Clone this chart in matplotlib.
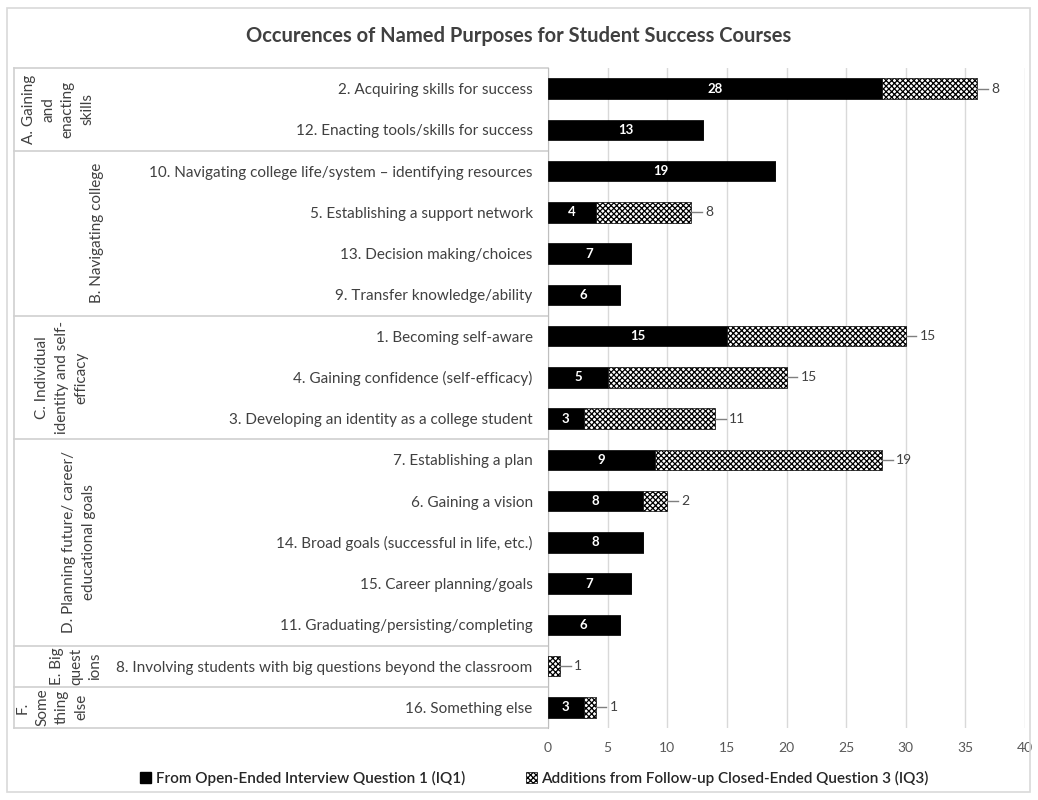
import matplotlib.pyplot as plt
import matplotlib.patches as mpatches
import matplotlib.transforms as mtransforms

plt.rcParams['font.family'] = ['Lato', 'DejaVu Sans']
plt.rcParams['hatch.linewidth'] = 0.9

purposes = [
    "2. Acquiring skills for success",
    "12. Enacting tools/skills for success",
    "10. Navigating college life/system \u2013 identifying resources",
    "5. Establishing a support network",
    "13. Decision making/choices",
    "9. Transfer knowledge/ability",
    "1. Becoming self-aware",
    "4. Gaining confidence (self-efficacy)",
    "3. Developing an identity as a college student",
    "7. Establishing a plan",
    "6. Gaining a vision",
    "14. Broad goals (successful in life, etc.)",
    "15. Career planning/goals",
    "11. Graduating/persisting/completing",
    "8. Involving students with big questions beyond the classroom",
    "16. Something else",
]
iq1 = [28, 13, 19, 4, 7, 6, 15, 5, 3, 9, 8, 8, 7, 6, 0, 3]
iq3 = [8, 0, 0, 8, 0, 0, 15, 15, 11, 19, 2, 0, 0, 0, 1, 1]

groups = [
    "A. Gaining\nand\nenacting\nskills",
    "B. Navigating college",
    "C. Individual\nidentity and self-\nefficacy",
    "D. Planning future/ career/\neducational goals",
    "E. Big\nquest\nions",
    "F.\nSome\nthing\nelse",
]
group_sizes = [2, 4, 3, 5, 1, 1]
# x position (px) of each rotated group label inside the left column
group_x_px = [58, 97, 62, 79, 76, 52]

W, H = 1038, 800
fig = plt.figure(figsize=(W / 100, H / 100), dpi=100)
ax = fig.add_axes([548 / W, 1 - 728 / H, (1025 - 548) / W, 660 / H])

dark = '#404040'
grid = '#d9d9d9'
rows = list(range(len(purposes)))

ax.barh(rows, iq1, height=0.5, color='black', edgecolor='black', linewidth=0.5, zorder=3)
ax.barh(rows, iq3, left=iq1, height=0.5, color='white', edgecolor='black',
        hatch='xxxxxx', linewidth=0.5, zorder=3)

for i, (a, b) in enumerate(zip(iq1, iq3)):
    if a > 0:
        ax.text(a / 2, i, str(a), ha='center', va='center', color='white',
                fontsize=9.5, fontweight='bold', zorder=4)
    if b > 0:
        end = a + b
        ax.plot([end, end + 0.9], [i, i], color='#7f7f7f', lw=1, zorder=4)
        ax.text(end + 1.2, i, str(b), ha='left', va='center', color=dark,
                fontsize=10, zorder=4)

ax.set_xlim(0, 40)
ax.set_ylim(len(purposes) - 0.5, -0.5)
ax.set_xticks(range(0, 41, 5))
ax.xaxis.grid(True, color=grid, lw=1, zorder=0)
ax.set_axisbelow(True)
ax.tick_params(axis='x', length=0, labelsize=10, labelcolor='#595959', pad=10)
ax.set_yticks(rows)
ax.set_yticklabels(purposes, fontsize=11, color=dark)
ax.tick_params(axis='y', length=0, pad=11)
for s in ['top', 'right', 'bottom']:
    ax.spines[s].set_visible(False)
ax.spines['left'].set_color('#bfbfbf')

# table lines for the group column
trans = mtransforms.blended_transform_factory(ax.transAxes, ax.transData)
x_left = (14 - 548) / (1025 - 548)
bounds = [-0.5]
for n in group_sizes:
    bounds.append(bounds[-1] + n)
for yb in bounds:
    ax.plot([x_left, 0], [yb, yb], color='#d0d0d0', lw=1.2, transform=trans, clip_on=False)
ax.plot([x_left, x_left], [bounds[0], bounds[-1]], color='#d0d0d0', lw=1.2,
        transform=trans, clip_on=False)

for k, g in enumerate(groups):
    yc = (bounds[k] + bounds[k + 1]) / 2
    xg = (group_x_px[k] - 548) / (1025 - 548)
    ax.text(xg, yc, g, rotation=90, ha='center', va='center', multialignment='center',
            fontsize=11, color=dark, transform=trans, linespacing=1.5)

fig.text(0.5, 1 - 36 / H, "Occurences of Named Purposes for Student Success Courses",
         ha='center', va='center', fontsize=14.5, fontweight='bold', color=dark)

handles = [
    mpatches.Patch(facecolor='black', edgecolor='black',
                   label='From Open-Ended Interview Question 1 (IQ1)'),
    mpatches.Patch(facecolor='white', edgecolor='black', hatch='xxxxxx', linewidth=0.5,
                   label='Additions from Follow-up Closed-Ended Question 3 (IQ3)'),
]
leg = fig.legend(handles=handles, loc='center', bbox_to_anchor=(0.515, 1 - 778 / H), ncol=2,
                 frameon=False, fontsize=11, handlelength=0.7, handleheight=0.7,
                 handletextpad=0.3, columnspacing=4)
for t in leg.get_texts():
    t.set_color('#262626')
    t.set_fontweight('semibold')

fig.patches.append(mpatches.Rectangle((7 / W, 8 / H), 1 - 15 / W, 1 - 16 / H,
                                      transform=fig.transFigure, fill=False,
                                      edgecolor='#d9d9d9', lw=1.2))

fig.savefig('out.png', dpi=100, facecolor='white')
